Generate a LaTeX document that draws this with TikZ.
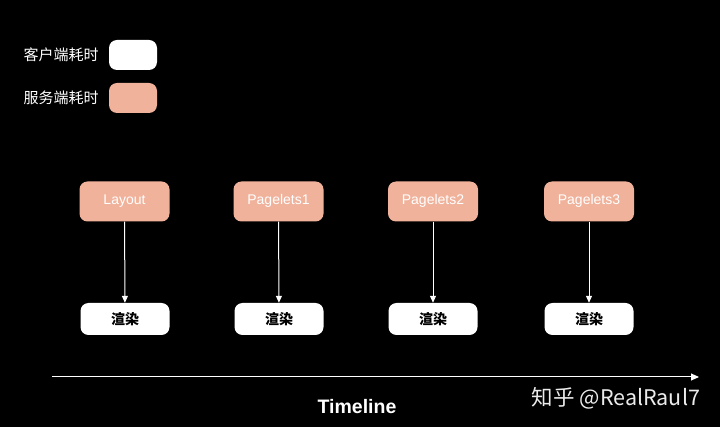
\documentclass[tikz,border=0pt]{standalone}
\usepackage{fontspec}
\setmainfont{Liberation Sans}
\newfontfamily\cjk{Noto Sans CJK SC}
\usetikzlibrary{arrows.meta}
\definecolor{salmon}{RGB}{240,178,155}
\tikzset{
  srv/.style={fill=salmon, rounded corners=8pt, minimum width=90pt, minimum height=40pt, text=white, font=\fontsize{14}{16}\selectfont, inner sep=0pt, text height=10pt, text depth=3pt},
  cli/.style={fill=white, rounded corners=8pt, minimum width=89pt, minimum height=32pt, text=black, font=\cjk\bfseries\fontsize{14}{16}\selectfont, inner sep=0pt},
  leg/.style={text=white, font=\cjk\fontsize{15}{17}\selectfont, inner sep=0pt},
  conn/.style={draw=white, line width=1pt, -{Triangle[width=6pt,length=7pt]}}
}
\begin{document}
\begin{tikzpicture}[x=1pt,y=-1pt]
\fill[black] (0,0) rectangle (720,427);
\useasboundingbox (0,0) rectangle (720,427);
% legend
\node[leg] (l1) at (61,55) {客户端耗时};
\node[leg] (l2) at (61,98) {服务端耗时};
\node[fill=white, rounded corners=8pt, minimum width=48pt, minimum height=30pt, inner sep=0pt] (lb1) at (133,55) {};
\node[fill=salmon, rounded corners=8pt, minimum width=48pt, minimum height=30pt, inner sep=0pt] (lb2) at (133,98) {};
% server boxes
\node[srv] (s1) at (124.5,201.5) {Layout};
\node[srv] (s2) at (278.5,201.5) {Pagelets1};
\node[srv] (s3) at (433,201.5) {Pagelets2};
\node[srv] (s4) at (589,201.5) {Pagelets3};
% client boxes
\node[cli] (c1) at (125,319) {渲染};
\node[cli] (c2) at (279,319) {渲染};
\node[cli] (c3) at (433,319) {渲染};
\node[cli] (c4) at (589,319) {渲染};
\foreach \i in {1,2,3,4} \draw[conn] (s\i) -- (c\i);
% timeline
\coordinate (t0) at (52,377);
\coordinate (t1) at (699,377);
\draw[draw=white, line width=1pt, -{Triangle[width=7pt,length=8pt]}] (t0) -- (t1);
\node[text=white, font=\bfseries\fontsize{19.5}{22}\selectfont] (tl) at (357,407) {Timeline};
\node[text=white!92!black, font=\cjk\fontsize{21.5}{24}\selectfont] (wm) at (616,398) {知乎 @RealRaul7};
\end{tikzpicture}
\end{document}
